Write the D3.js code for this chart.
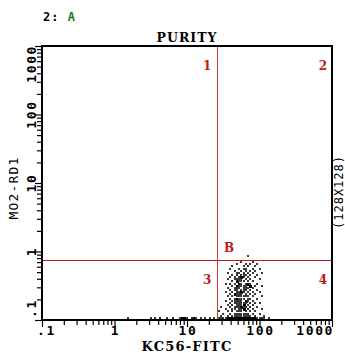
<!DOCTYPE html>
<html>
<head>
<meta charset="utf-8">
<script src="https://cdn.jsdelivr.net/npm/d3@7"></script>
<style>
  body { margin: 0; background: #fff; }
  svg { display: block; }
</style>
</head>
<body>
<script>
// axis decades and their labels
var decades = [0.1, 1, 10, 100, 1000];
var decadeLabels = [".1", "1", "10", "100", "1000"];

// quadrant gate (x = KC56-FITC, y = MO2-RD1)
var gateX = 26;
var gateY = 0.75;
var quadrantLabels = ["1", "2", "3", "4"];

// events on the 128x128 channel grid, by y channel: [ych, [x channels]]
var eventRows = [
    [30, [91]],
    [27, [88, 93]],
    [26, [86, 90, 92, 95]],
    [25, [84, 89, 91, 94]],
    [24, [83, 87, 89, 90, 93, 96]],
    [23, [85, 88, 90, 92, 94]],
    [22, [82, 86, 87, 89, 91, 93, 97]],
    [21, [84, 86, 88, 89, 90, 92, 95]],
    [20, [83, 85, 87, 88, 89, 91, 94]],
    [19, [82, 85, 86, 87, 88, 90, 92, 96]],
    [18, [84, 86, 87, 88, 89, 91, 93]],
    [17, [81, 83, 85, 87, 88, 90, 91, 92, 95]],
    [16, [84, 86, 87, 88, 89, 90, 92, 94, 97]],
    [15, [82, 85, 86, 87, 89, 90, 91, 93]],
    [14, [83, 85, 86, 88, 89, 90, 92, 95]],
    [13, [81, 84, 86, 87, 88, 89, 91, 93, 96]],
    [12, [83, 85, 86, 87, 88, 90, 92, 94]],
    [11, [82, 84, 86, 87, 88, 89, 90, 91, 93, 97]],
    [10, [83, 85, 86, 87, 88, 89, 91, 92, 95]],
    [9, [81, 84, 85, 86, 87, 88, 90, 91, 93]],
    [8, [83, 85, 86, 87, 88, 89, 90, 92, 94, 96]],
    [7, [82, 84, 86, 87, 88, 89, 91, 93]],
    [6, [79, 83, 85, 86, 87, 88, 89, 90, 92, 95]],
    [5, [81, 84, 85, 87, 88, 89, 91, 93, 97]],
    [4, [78, 82, 84, 86, 87, 88, 90, 92, 94]],
    [3, [80, 83, 85, 86, 87, 88, 89, 90, 91, 93, 96]],
    [2, [79, 82, 84, 85, 86, 87, 88, 89, 90, 91, 92, 94, 98]],
    [1, [38, 48, 50, 52, 55, 58, 61, 62, 63, 64, 66, 67, 68, 70, 72, 74, 76, 78, 79, 80,
         81, 82, 83, 84, 85, 86, 87, 88, 89, 90, 91, 92, 93, 94, 95, 96, 97, 98, 100]]
];

// cells with several events (drawn as solid blocks)
var denseCells = [
    [86, 18], [87, 17], [86, 16], [87, 14], [88, 13], [85, 11], [86, 10], [89, 9],
    [90, 9], [88, 6], [89, 5], [92, 16], [91, 17], [87, 21], [88, 20], [89, 7], [85, 12],
    [82, 1], [83, 1], [84, 1], [85, 1], [86, 1], [87, 1], [88, 1], [89, 1], [90, 1],
    [91, 1], [92, 1], [93, 1], [94, 1], [62, 1], [63, 1], [67, 1]
];

function dotPlot() {
    var width = 345, height = 353;
    var pLeft = 42, pRight = 332, pTop = 46, pBottom = 320;
    var red = "#c01818";

    var svg = d3.select("body").append("svg")
        .attr("width", width)
        .attr("height", height);

    var x = d3.scaleLog().domain([0.1, 1000]).range([pLeft, pRight]);
    var y = d3.scaleLog().domain([0.1, 1000]).range([pBottom, pTop]);
    var xc = d3.scaleLinear().domain([0, 128]).range([pLeft, pRight]);
    var yc = d3.scaleLinear().domain([0, 128]).range([pBottom, pTop]);

    var allTicks = [];
    decades.slice(0, -1).forEach(function (d) {
        for (var k = 1; k < 10; k++) allTicks.push(d * k);
    });
    allTicks.push(1000);

    function isMajor(v) {
        return decades.some(function (d) { return Math.abs(v / d - 1) < 1e-6; });
    }

    // header
    var header = svg.append("text")
        .attr("x", 43).attr("y", 21)
        .style("font-family", "DejaVu Sans Mono")
        .style("font-weight", "bold")
        .style("font-size", "12px")
        .style("letter-spacing", "1px");
    header.append("tspan").attr("fill", "#000").text("2: ");
    header.append("tspan").attr("fill", "#1a7a1a").text("A");

    svg.append("text")
        .attr("x", 187).attr("y", 42)
        .attr("text-anchor", "middle")
        .style("font-family", "DejaVu Serif")
        .style("font-weight", "bold")
        .style("font-size", "12.5px")
        .style("letter-spacing", "1px")
        .text("PURITY");

    // events
    var events = [];
    eventRows.forEach(function (row) {
        row[1].forEach(function (c) { events.push([c, row[0]]); });
    });
    var denseKey = {};
    denseCells.forEach(function (c) { denseKey[c[0] + "_" + c[1]] = true; });
    function dense(d) { return denseKey[d[0] + "_" + d[1]]; }

    svg.append("g").selectAll("rect")
        .data(events)
        .join("rect")
        .attr("x", function (d) { return Math.round(xc(d[0]) - 1); })
        .attr("y", function (d) { return Math.round(yc(d[1]) - 1); })
        .attr("width", function (d) { return dense(d) ? 3 : 2; })
        .attr("height", function (d) { return dense(d) ? 3 : 2; })
        .attr("fill", function (d) { return dense(d) ? "#000" : "#3a3a3a"; });

    // quadrant lines
    var gx = Math.round(x(gateX)) + 0.5, gy = Math.round(y(gateY)) + 0.5;
    svg.append("line")
        .attr("x1", gx).attr("x2", gx)
        .attr("y1", pTop).attr("y2", pBottom)
        .attr("stroke", "#d03838").attr("stroke-width", 1);
    svg.append("line")
        .attr("x1", pLeft).attr("x2", pRight)
        .attr("y1", gy).attr("y2", gy)
        .attr("stroke", red).attr("stroke-width", 1);
    svg.append("rect")
        .attr("x", gx - 0.5).attr("y", pBottom - 2)
        .attr("width", 2).attr("height", 2)
        .attr("fill", "#2a9a2a");

    // frame
    svg.append("rect")
        .attr("x", pLeft).attr("y", pTop)
        .attr("width", pRight - pLeft).attr("height", pBottom - pTop)
        .attr("fill", "none").attr("stroke", "#000").attr("stroke-width", 2);

    // axes
    var xAxis = svg.append("g")
        .attr("transform", "translate(0," + (pBottom + 1) + ")")
        .call(d3.axisBottom(x).tickValues(allTicks).tickFormat("").tickSizeOuter(0));
    var yAxis = svg.append("g")
        .attr("transform", "translate(" + (pLeft - 1) + ",0)")
        .call(d3.axisLeft(y).tickValues(allTicks).tickFormat("").tickSizeOuter(0));
    [xAxis, yAxis].forEach(function (g) {
        g.select(".domain").remove();
        g.selectAll(".tick line")
            .attr("stroke", "#000")
            .attr("stroke-width", 1.2);
    });
    xAxis.selectAll(".tick line").attr("y2", function (d) { return isMajor(d) ? 6 : 4; });
    yAxis.selectAll(".tick line").attr("x2", function (d) { return isMajor(d) ? -6 : -4; });

    var tickFont = function (sel) {
        sel.style("font-family", "DejaVu Sans Mono")
            .style("font-weight", "bold")
            .style("font-size", "13px")
            .style("letter-spacing", "1.6px");
    };
    var last = decades.length - 1;

    svg.append("g").selectAll("text")
        .data(decades)
        .join("text")
        .attr("x", function (d, i) { return i === 0 ? 37 : (i === last ? 334 : x(d) + 1); })
        .attr("y", 335)
        .attr("text-anchor", function (d, i) { return i === 0 ? "start" : (i === last ? "end" : "middle"); })
        .call(tickFont)
        .text(function (d, i) { return decadeLabels[i]; });

    svg.append("g").selectAll("text")
        .data(decades)
        .join("text")
        .attr("transform", function (d, i) {
            var py = i === 0 ? 318 : (i === last ? 45 : y(d));
            return "translate(36," + py + ") rotate(-90)";
        })
        .attr("text-anchor", function (d, i) { return i === 0 ? "start" : (i === last ? "end" : "middle"); })
        .call(tickFont)
        .text(function (d, i) { return decadeLabels[i]; });

    // axis titles
    svg.append("text")
        .attr("x", 187).attr("y", 351)
        .attr("text-anchor", "middle")
        .style("font-family", "DejaVu Serif")
        .style("font-weight", "bold")
        .style("font-size", "13px")
        .style("letter-spacing", "1.2px")
        .text("KC56-FITC");

    svg.append("text")
        .attr("transform", "translate(18,188) rotate(-90)")
        .attr("text-anchor", "middle")
        .style("font-family", "DejaVu Sans Mono")
        .style("font-size", "13px")
        .style("letter-spacing", "1.2px")
        .text("MO2-RD1");

    svg.append("text")
        .attr("transform", "translate(343,192) rotate(-90)")
        .attr("text-anchor", "middle")
        .style("font-family", "DejaVu Sans Mono")
        .style("font-size", "12px")
        .style("letter-spacing", "1px")
        .text("(128X128)");

    // quadrant numbers and gate name
    var qx = [x(gateX) - 10, pRight - 9, x(gateX) - 10, pRight - 9];
    var qy = [y(1000) + 24, y(1000) + 24, y(gateY) + 24, y(gateY) + 24];
    var quadFont = function (sel) {
        sel.style("font-family", "DejaVu Serif")
            .style("font-weight", "bold")
            .style("font-size", "12px")
            .attr("fill", red);
    };
    svg.append("g").selectAll("text")
        .data(quadrantLabels)
        .join("text")
        .attr("x", function (d, i) { return qx[i]; })
        .attr("y", function (d, i) { return qy[i]; })
        .attr("text-anchor", "middle")
        .call(quadFont)
        .text(function (d) { return d; });

    svg.append("text")
        .attr("x", x(gateX) + 12).attr("y", y(gateY) - 8)
        .attr("text-anchor", "middle")
        .call(quadFont)
        .text("B");
}

window.onload = function () {
    dotPlot();
};
</script>
</body>
</html>
